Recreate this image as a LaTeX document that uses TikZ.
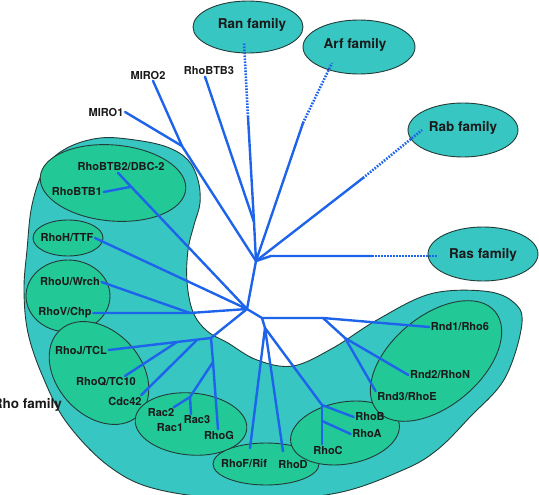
\documentclass[tikz,border=0pt]{standalone}
\usepackage{fontspec}
\setmainfont{TeX Gyre Heros}
\usetikzlibrary{shapes.geometric}
\definecolor{rhocyan}{RGB}{56,198,194}
\definecolor{rhogreen}{RGB}{34,200,150}
\definecolor{treeblue}{RGB}{30,100,235}
\definecolor{edgedark}{RGB}{35,60,55}
\definecolor{labeltext}{RGB}{25,25,25}
\begin{document}
\begin{tikzpicture}[x=1pt,y=-1pt,
  famoval/.style={ellipse, draw=edgedark, line width=0.9pt, fill=rhocyan, inner sep=0pt},
  suboval/.style={ellipse, draw=edgedark, line width=0.9pt, fill=rhogreen, inner sep=0pt},
  lbl/.style={font=\fontsize{11}{12}\selectfont\bfseries, text=labeltext, inner sep=1.5pt},
  famlbl/.style={font=\fontsize{13.5}{15}\selectfont\bfseries, text=labeltext, inner sep=0pt},
  branch/.style={draw=treeblue, line width=2.4pt, line cap=round, line join=round},
  dotbranch/.style={draw=treeblue, line width=2.6pt, dash pattern=on 1.6pt off 1.4pt},
]
\useasboundingbox (0,0) rectangle (539,495);

% Rho family blob
\draw[draw=edgedark, fill=rhocyan, line width=0.9pt]
  plot[smooth cycle, tension=0.6] coordinates {
  (522,323) (505,378) (470,417) (437,450) (403,470) (337,493) (250,500)
  (160,490) (110,467) (67,423) (43,377) (28,333) (24,290) (27,250)
  (32,205) (45,168) (67,148) (100,138) (135,140) (167,147) (188,160)
  (198,180) (200,203) (194,225) (188,250) (187,282) (193,312) (207,331)
  (228,343) (257,360) (293,366) (333,348) (377,320) (430,294) (483,291)
  (512,301)};

% sub-groups
\node[suboval, minimum width=146pt, minimum height=76pt, rotate=-5] (btbov) at (113,183) {};
\node[suboval, minimum width=70pt, minimum height=36pt] (rhohov) at (68,238) {};
\node[suboval, minimum width=84pt, minimum height=72pt] (rhouvov) at (68,296) {};
\node[suboval, minimum width=116pt, minimum height=84pt, rotate=-48] (rhojov) at (99,373) {};
\node[suboval, minimum width=112pt, minimum height=62pt, rotate=-5] (racov) at (191,424) {};
\node[suboval, minimum width=106pt, minimum height=42pt] (rhofov) at (266,464) {};
\node[suboval, minimum width=110pt, minimum height=62pt, rotate=10] (rhoabcov) at (345,433) {};
\node[suboval, minimum width=154pt, minimum height=90pt, rotate=40] (rndov) at (436,361) {};

% other families
\node[famoval, minimum width=110pt, minimum height=52pt] (ranov) at (248,27) {};
\node[famoval, minimum width=112pt, minimum height=54pt] (arfov) at (359,47) {};
\node[famoval, minimum width=110pt, minimum height=54pt] (rabov) at (463,130) {};
\node[famoval, minimum width=110pt, minimum height=54pt] (rasov) at (483,254) {};

% labels
\node[famlbl] (ran) at (252,25) {Ran family};
\node[famlbl] (arf) at (355,45) {Arf family};
\node[famlbl] (rab) at (463,128) {Rab family};
\node[famlbl] (ras) at (483,255) {Ras family};
\node[famlbl, anchor=east] (rhofam) at (62,405) {Rho family};

\node[lbl] (miro1) at (106,112) {MIRO1};
\node[lbl] (miro2) at (148,75) {MIRO2};
\node[lbl] (btb3) at (209,71) {RhoBTB3};
\node[lbl] (btb2) at (121,167) {RhoBTB2/DBC-2};
\node[lbl] (btb1) at (77,192) {RhoBTB1};
\node[lbl] (rhoh) at (67,238) {RhoH/TTF};
\node[lbl] (rhou) at (70,282) {RhoU/Wrch};
\node[lbl] (rhov) at (65,313) {RhoV/Chp};
\node[lbl] (rhoj) at (81,350) {RhoJ/TCL};
\node[lbl] (rhoq) at (106,382) {RhoQ/TC10};
\node[lbl] (cdc) at (125,401) {Cdc42};
\node[lbl] (rac2) at (161,413) {Rac2};
\node[lbl] (rac3) at (197,420) {Rac3};
\node[lbl] (rac1) at (170,428) {Rac1};
\node[lbl] (rhog) at (219,435) {RhoG};
\node[lbl] (rhof) at (244,463) {RhoF/Rif};
\node[lbl] (rhod) at (293,465) {RhoD};
\node[lbl] (rhoc) at (328,450) {RhoC};
\node[lbl] (rhoa) at (367,434) {RhoA};
\node[lbl] (rhob) at (370,417) {RhoB};
\node[lbl] (rnd3) at (407,397) {Rnd3/RhoE};
\node[lbl] (rnd2) at (440,375) {Rnd2/RhoN};
\node[lbl] (rnd1) at (460,327) {Rnd1/Rho6};

% tree junctions
\coordinate (M) at (182,146);
\coordinate (JBR) at (254,222);
\coordinate (A) at (256,261);
\coordinate (RJ) at (271,256);
\coordinate (B) at (247,309);
\coordinate (C) at (262,318);
\coordinate (E) at (265,328);
\coordinate (K) at (323,318);
\coordinate (R2) at (345,338);
\coordinate (N) at (322,405);
\coordinate (NA) at (322,421);
\coordinate (UV) at (190,313);
\coordinate (D) at (211,338);
\coordinate (QJ) at (177,342);
\coordinate (CJ) at (197,340);
\coordinate (D2) at (213,362);
\coordinate (RJac) at (190,397);
\coordinate (BJ) at (130,187);
% solid/dotted transitions
\coordinate (ranS) at (248,117);
\coordinate (ranD) at (244,43);
\coordinate (arfS) at (303,123);
\coordinate (arfD) at (332,63);
\coordinate (rabS) at (363,178);
\coordinate (rabD) at (422,130);
\coordinate (rasS) at (372,256);
\coordinate (rasD) at (437,256);

% dotted links
\draw[dotbranch] (ranS) -- (ranD);
\draw[dotbranch] (arfS) -- (arfD);
\draw[dotbranch] (rabS) -- (rabD);
\draw[dotbranch] (rasS) -- (rasD);

% solid tree
\draw[branch] (A) -- (JBR) -- (ranS);
\draw[branch] (JBR) -- ([xshift=-4pt]btb3.south);
\draw[branch] (A) -- (M) -- (miro1.east);
\draw[branch] (M) -- ([xshift=5pt]miro2.south);
\draw[branch] (A) -- (arfS);
\draw[branch] (A) -- (rabS);
\draw[branch] (A) -- (RJ) -- (rasS);
\draw[branch] (A) -- (B);
\draw[branch] (B) -- ([xshift=-3pt]btb2.south);
\draw[branch] (BJ) -- (btb1.east);
\draw[branch] (B) -- (rhoh.east);
\draw[branch] (B) -- (UV) -- (rhov.east);
\draw[branch] (UV) -- (rhou.east);
\draw[branch] (B) -- (D) -- (rhoj.east);
\draw[branch] (QJ) -- ([xshift=19pt]rhoq.north);
\draw[branch] (CJ) -- ([xshift=-2pt]cdc.north east);
\draw[branch] (D) -- (D2) -- (RJac) -- ([xshift=-2pt]rac2.north east);
\draw[branch] (RJac) -- ([xshift=-6pt]rac3.north);
\draw[branch] (D2) -- ([xshift=-1pt]rhog.north);
\draw[branch] (B) -- (C) -- (K) -- (rnd1.west);
\draw[branch] (K) -- (R2) -- (rnd2.west);
\draw[branch] (R2) -- (rnd3.north west);
\draw[branch] (C) -- (E) -- ([xshift=6pt,yshift=9pt]rhof.north);
\draw[branch] (E) -- ([xshift=-10pt,yshift=8pt]rhod.north);
\draw[branch] (E) -- (N) -- (rhob.west);
\draw[branch] (N) -- ([xshift=-6pt]rhoc.north);
\draw[branch] (NA) -- (rhoa.west);
\end{tikzpicture}
\end{document}
